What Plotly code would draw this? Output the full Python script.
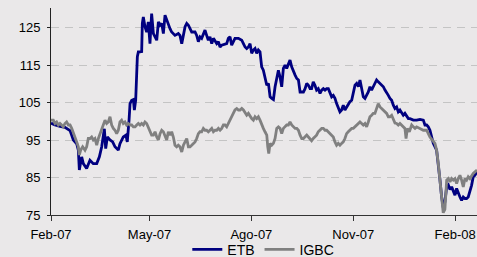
import pandas as pd
import plotly.graph_objects as go

# Days elapsed since 2007-02-01 for each sampled point, and index values
etb_days = [0, 3.6, 8.1, 12.6, 17.2, 20.2, 23.2, 24.7, 25.6, 27.7, 29.2, 32.2, 35.2, 38.2, 41.3, 43.7, 45.8, 47.3, 48.2, 49.4,
            50.9, 53.3, 55.7, 57.8, 60.8, 62.3, 65.3, 67.7, 68.9, 70.5, 71.4, 72.9, 74.4, 75.3, 76.5, 78.0, 78.9, 80.4, 81.9, 82.5,
            83.4, 84.9, 86.4, 87.9, 89.4, 90.9, 92.5, 94.0, 95.5, 97.0, 98.5, 100.0, 101.5, 103.0, 104.5, 106.0, 107.5, 109.0, 112.0, 115.0,
            116.5, 118.1, 119.6, 121.1, 122.6, 124.1, 125.6, 127.1, 130.1, 131.6, 133.1, 134.6, 136.1, 137.6, 139.1, 140.6, 142.1, 143.6, 145.2, 146.7,
            148.2, 149.7, 151.2, 152.7, 154.2, 157.2, 158.7, 160.2, 161.7, 163.2, 164.7, 166.2, 169.3, 172.3, 173.8, 175.3, 176.8, 178.3, 179.8, 181.3,
            182.8, 184.3, 185.8, 187.3, 188.8, 190.3, 191.8, 193.3, 194.9, 196.4, 197.9, 199.4, 200.9, 202.4, 203.9, 205.4, 206.9, 208.4, 209.9, 211.4,
            212.9, 214.4, 215.9, 217.4, 218.9, 220.5, 222.0, 223.5, 225.0, 228.0, 229.5, 231.0, 232.5, 234.0, 235.4, 236.9, 238.4, 239.9, 241.4, 243.0,
            244.5, 246.0, 247.5, 249.0, 250.5, 252.0, 253.5, 255.0, 256.5, 258.0, 259.5, 261.0, 262.5, 264.0, 265.5, 267.0, 268.5, 270.0, 271.6, 273.1,
            274.6, 276.1, 277.6, 279.1, 280.6, 282.1, 283.6, 285.1, 286.6, 288.1, 289.6, 291.1, 292.6, 294.1, 295.6, 297.2, 298.7, 300.2, 301.7, 303.2,
            304.7, 306.2, 307.7, 309.2, 310.7, 312.2, 313.7, 315.2, 316.7, 318.2, 319.7, 321.3, 322.8, 324.3, 327.3, 330.3, 333.3, 336.3, 337.8, 339.3,
            340.8, 342.3, 343.8, 345.3, 348.3, 349.8, 351.3, 352.8, 354.3, 355.8, 357.4, 358.9, 360.4, 361.9, 363.4, 364.9, 366.4, 367.9, 369.4, 370.9,
            372.4, 373.9, 375.4, 376.9, 378.4, 379.9, 381.4, 382.9, 384.8]
etb_vals = [99.5, 99.0, 98.6, 98.4, 97.5, 95.0, 94.0, 92.3, 87.0, 90.5, 88.7, 87.4, 89.6, 88.7, 88.7, 90.5, 93.2, 96.7, 98.0, 92.7,
            95.8, 95.0, 94.5, 93.2, 92.3, 94.0, 95.8, 96.3, 94.5, 100.3, 104.7, 105.6, 105.8, 103.0, 105.6, 117.2, 118.5, 118.5, 118.6, 126.1,
            127.8, 125.2, 123.8, 126.5, 120.7, 128.7, 123.4, 122.5, 121.6, 126.5, 125.6, 126.1, 123.4, 128.3, 127.0, 126.1, 124.7, 123.8, 122.9, 123.4,
            122.9, 120.7, 123.4, 125.2, 126.1, 125.6, 124.7, 123.8, 123.8, 122.9, 121.2, 122.5, 122.1, 123.4, 124.3, 122.9, 121.6, 122.5, 120.7, 122.1,
            121.2, 120.7, 121.2, 119.8, 120.3, 120.7, 120.7, 122.1, 122.5, 120.3, 121.2, 122.1, 122.1, 121.6, 120.7, 119.8, 119.4, 119.8, 120.7, 118.1,
            119.0, 119.4, 118.1, 119.0, 118.5, 114.5, 113.6, 111.8, 109.6, 110.1, 106.5, 106.1, 105.8, 109.2, 111.8, 113.6, 111.8, 109.2, 114.1, 115.0,
            114.1, 115.0, 116.3, 114.5, 113.2, 112.3, 111.4, 111.0, 107.8, 107.8, 108.7, 110.1, 109.6, 108.7, 108.7, 110.5, 109.6, 108.3, 108.7, 107.4,
            108.3, 108.7, 108.3, 108.7, 108.7, 107.8, 106.5, 106.9, 106.1, 104.7, 103.4, 102.5, 103.0, 104.3, 103.0, 103.8, 104.3, 105.2, 105.6, 107.4,
            109.6, 110.1, 109.2, 111.0, 108.3, 106.5, 106.1, 106.9, 107.8, 109.2, 108.3, 109.2, 110.1, 111.0, 110.5, 110.1, 109.6, 109.2, 108.3, 107.4,
            106.9, 106.1, 105.6, 104.3, 103.4, 103.8, 102.5, 103.0, 102.1, 101.6, 102.1, 101.2, 100.7, 100.7, 100.3, 100.3, 100.5, 100.3, 99.0, 99.0,
            98.5, 97.6, 95.8, 94.1, 92.3, 89.0, 84.5, 80.0, 77.0, 78.5, 82.5, 83.0, 81.8, 82.5, 81.2, 80.3, 82.1, 80.7, 79.8, 78.9,
            79.8, 79.4, 79.4, 79.8, 81.2, 82.9, 85.2, 85.6, 86.5]

igbc_days = [0, 2.1, 3.6, 5.1, 6.6, 8.1, 9.6, 11.1, 12.6, 14.1, 15.7, 17.2, 18.7, 20.2, 21.7, 23.2, 24.7, 25.6, 26.8, 28.6,
             30.7, 32.2, 33.7, 35.2, 36.7, 38.2, 39.7, 41.3, 42.8, 44.3, 45.8, 47.3, 48.8, 50.3, 51.8, 53.3, 54.8, 56.3, 57.8, 59.3,
             60.8, 62.3, 63.8, 65.3, 66.8, 68.3, 69.9, 71.4, 72.9, 74.4, 75.9, 77.4, 78.9, 80.4, 81.9, 83.4, 84.9, 86.4, 87.9, 89.4,
             90.9, 92.5, 94.0, 95.5, 97.0, 98.5, 100.0, 101.5, 103.0, 104.5, 106.0, 107.5, 109.0, 110.5, 112.0, 113.5, 115.0, 116.5, 118.1, 119.6,
             121.1, 122.6, 124.1, 125.6, 127.1, 128.6, 130.1, 131.6, 133.1, 134.6, 136.1, 137.6, 139.1, 140.6, 142.1, 143.6, 145.2, 146.7, 148.2, 149.7,
             151.2, 152.7, 154.2, 155.7, 157.2, 158.7, 160.2, 161.7, 163.2, 164.7, 166.2, 167.8, 169.3, 170.8, 172.3, 173.8, 175.3, 176.8, 178.3, 179.8,
             181.3, 182.8, 184.3, 185.8, 187.3, 188.8, 190.3, 191.8, 193.3, 194.9, 195.8, 196.7, 197.9, 199.4, 200.9, 202.4, 203.9, 205.4, 206.9, 208.4,
             209.9, 211.4, 212.9, 214.4, 215.9, 217.4, 218.9, 220.5, 222.0, 223.5, 225.0, 226.5, 228.0, 229.5, 231.0, 232.5, 234.0, 235.4, 236.9, 238.4,
             239.9, 241.4, 243.0, 244.5, 246.0, 247.5, 249.0, 250.5, 252.0, 253.5, 255.0, 256.5, 258.0, 259.5, 261.0, 262.5, 264.0, 265.5, 267.0, 268.5,
             270.0, 271.6, 273.1, 274.6, 276.1, 277.6, 279.1, 280.6, 282.1, 283.6, 285.1, 286.6, 288.1, 289.6, 291.1, 292.6, 294.1, 295.6, 297.2, 298.7,
             300.2, 301.7, 303.2, 304.7, 306.2, 307.7, 309.2, 310.7, 312.2, 313.7, 315.2, 316.7, 318.2, 319.7, 320.7, 321.9, 323.7, 325.8, 327.3, 328.8,
             330.3, 333.3, 336.3, 339.3, 340.8, 342.3, 346.8, 348.3, 349.8, 351.3, 352.8, 354.3, 355.8, 357.4, 358.9, 360.4, 361.9, 363.4, 364.9, 366.4,
             367.9, 369.4, 370.9, 372.4, 373.9, 375.4, 376.9, 378.4, 381.4, 384.8]
igbc_vals = [100.3, 100.3, 99.4, 99.8, 99.0, 99.4, 99.0, 98.5, 99.4, 99.8, 99.0, 99.0, 98.1, 96.7, 95.8, 94.5, 93.2, 91.0, 92.3, 93.2,
             92.3, 93.2, 95.4, 95.4, 95.8, 95.0, 95.4, 93.6, 95.4, 96.7, 97.6, 99.4, 100.3, 99.4, 99.8, 101.2, 99.0, 98.1, 97.6, 96.7,
             97.6, 99.8, 100.3, 99.4, 99.8, 99.0, 99.4, 99.0, 99.0, 98.5, 98.5, 99.0, 99.4, 99.0, 99.4, 99.0, 99.8, 99.4, 98.5, 97.6,
             96.3, 96.3, 97.2, 95.8, 95.0, 96.7, 97.6, 97.2, 96.3, 95.0, 97.2, 96.3, 97.2, 95.8, 93.6, 93.2, 93.6, 93.2, 91.8, 93.6,
             94.5, 95.4, 93.2, 93.2, 93.6, 94.1, 94.5, 95.4, 96.7, 97.2, 97.2, 98.1, 97.6, 97.6, 97.2, 97.6, 98.1, 97.2, 97.6, 97.6,
             98.1, 97.6, 98.1, 99.0, 99.0, 98.5, 99.4, 100.7, 101.2, 102.1, 103.0, 103.4, 103.0, 103.0, 103.4, 103.0, 102.1, 101.6, 102.1, 101.2,
             100.7, 100.3, 101.2, 100.7, 101.2, 100.3, 99.0, 98.1, 97.2, 96.3, 93.2, 91.4, 94.1, 93.6, 94.1, 95.4, 98.1, 98.5, 98.1, 96.7,
             98.1, 98.5, 99.0, 99.0, 99.8, 99.0, 98.5, 98.1, 98.1, 97.6, 96.3, 95.4, 95.4, 95.8, 96.3, 95.8, 95.4, 94.8, 95.4, 95.8,
             96.3, 97.2, 97.6, 98.1, 98.1, 97.6, 97.6, 97.2, 96.7, 96.3, 95.8, 94.5, 93.6, 94.1, 93.6, 94.1, 94.5, 95.4, 96.7, 97.2,
             97.6, 98.1, 98.1, 98.5, 99.0, 99.4, 99.8, 99.4, 99.0, 99.4, 98.5, 99.8, 101.2, 101.6, 102.1, 102.1, 103.4, 104.7, 103.8, 103.4,
             103.0, 102.5, 102.1, 101.2, 101.2, 101.6, 100.3, 99.5, 99.4, 99.0, 99.4, 99.0, 98.5, 98.1, 95.4, 98.1, 97.2, 99.0, 98.5, 98.1,
             98.5, 98.1, 97.6, 97.6, 96.7, 95.8, 94.1, 92.3, 88.8, 84.3, 79.8, 75.6, 76.5, 84.3, 84.7, 83.8, 84.7, 84.3, 84.7, 83.4,
             84.7, 85.6, 84.3, 82.5, 84.7, 84.3, 85.2, 84.7, 86.1, 87.0]

tick_dates = ["2007-02-01", "2007-05-01", "2007-08-01", "2007-11-01", "2008-02-01"]
tick_labels = ["Feb-07", "May-07", "Ago-07", "Nov-07", "Feb-08"]
y_ticks = [75, 85, 95, 105, 115, 125]

start = pd.Timestamp("2007-02-01")
etb_dates = start + pd.to_timedelta(etb_days, unit="D")
igbc_dates = start + pd.to_timedelta(igbc_days, unit="D")

BG = "#EAE8E9"
FONT = "Liberation Sans, Arial, sans-serif"

fig = go.Figure()
fig.add_trace(go.Scatter(x=etb_dates, y=etb_vals, mode="lines", name="ETB",
                         line=dict(color="#000080", width=2.8)))
fig.add_trace(go.Scatter(x=igbc_dates, y=igbc_vals, mode="lines", name="IGBC",
                         line=dict(color="#808080", width=2.8)))

fig.update_layout(
    width=477, height=257,
    margin=dict(l=51, r=0, t=8, b=42, autoexpand=False),
    paper_bgcolor=BG, plot_bgcolor=BG,
    font=dict(family=FONT, size=13, color="#000000"),
    showlegend=True,
    legend=dict(orientation="h", xref="container", yref="container",
                x=0.552, xanchor="center", y=0.028, yanchor="middle",
                font=dict(size=14), bgcolor="rgba(0,0,0,0)",
                itemwidth=30, tracegroupgap=0),
    xaxis=dict(range=[start, start + pd.Timedelta(days=384.8)],
               tickvals=tick_dates, ticktext=tick_labels,
               showgrid=False, zeroline=False,
               showline=True, linecolor="#333333", linewidth=1,
               ticks="outside", ticklen=5, tickcolor="#333333",
               ticklabelstandoff=2,
               tickfont=dict(size=13), automargin=False),
    yaxis=dict(range=[75, 130.2], tickvals=y_ticks,
               showgrid=True, gridcolor="#C4C4C4", gridwidth=1, griddash="8px,6px",
               zeroline=False,
               showline=True, linecolor="#222222", linewidth=1,
               ticks="outside", ticklen=3, tickcolor="#222222",
               ticklabelstandoff=4,
               tickfont=dict(size=13), automargin=False),
)

fig.write_html(
    "out.html",
    config={"displayModeBar": False},
    post_script="document.body.style.margin='0';document.body.style.background='" + BG + "';",
)
